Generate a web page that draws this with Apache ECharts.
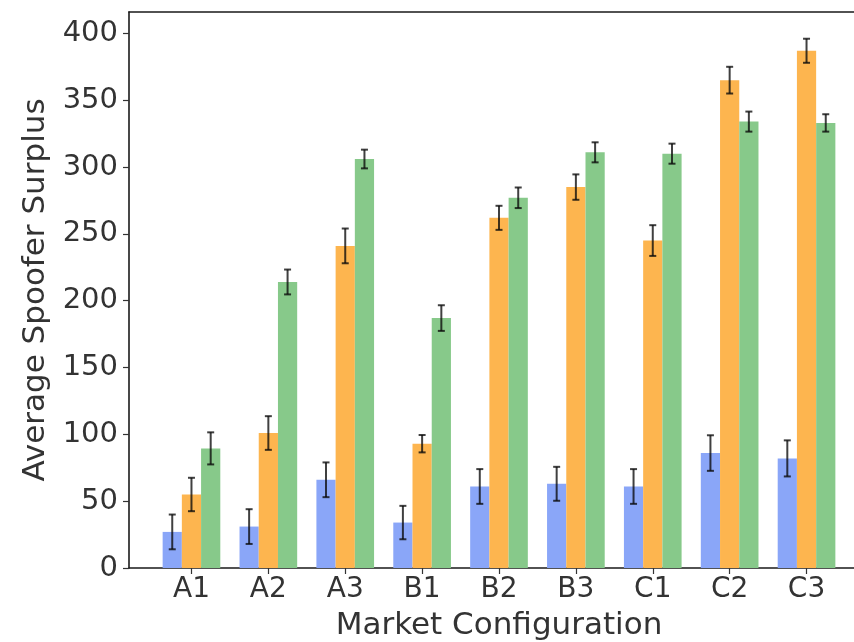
<!DOCTYPE html>
<html>
<head>
<meta charset="utf-8">
<script src="https://cdn.jsdelivr.net/npm/echarts@6/dist/echarts.min.js"></script>
<style>html,body{margin:0;padding:0;background:#fff;}#c{width:854px;height:642px;}</style>
</head>
<body>
<div id="c"></div>
<script>
const categories = ['A1','A2','A3','B1','B2','B3','C1','C2','C3'];
const blueValues   = [27, 31, 66, 34, 61, 63, 61, 86, 82];
const blueErrors   = [13, 13, 13, 12.5, 13, 12.7, 13, 13.3, 13.5];
const orangeValues = [55, 101, 241, 93, 262, 285, 245, 365, 387];
const orangeErrors = [12.5, 12.6, 13, 6.5, 9, 9.5, 11.5, 10, 9];
const greenValues  = [89.5, 214, 306, 187, 277, 311, 310, 334, 333];
const greenErrors  = [12, 9.3, 7, 9.6, 7.7, 7.5, 7.5, 7.5, 6.5];
const yTicks = [0, 50, 100, 150, 200, 250, 300, 350, 400];
const xTicks = categories.map((c, i) => i);

const BAR_W = 0.25;
const groups = [
  {name: 'Series 1', values: blueValues, errors: blueErrors, offset: -0.25, color: '#8aa6f8'},
  {name: 'Series 2', values: orangeValues, errors: orangeErrors, offset: 0, color: '#fdb54f'},
  {name: 'Series 3', values: greenValues, errors: greenErrors, offset: 0.25, color: '#87c98a'}
];

function makeSeries(g) {
  return {
    type: 'custom',
    name: g.name,
    clip: false,
    data: g.values.map((v, i) => [i, v, g.errors[i]]),
    renderItem: function (params, api) {
      const i = api.value(0), v = api.value(1), e = api.value(2);
      const c = i + g.offset;
      const p0 = api.coord([c - BAR_W / 2, 0]);
      const p1 = api.coord([c + BAR_W / 2, v]);
      const pc = api.coord([c, v]);
      const pt = api.coord([c, v + e]);
      const pb = api.coord([c, v - e]);
      const cap = 3.5;
      const errStyle = {stroke: 'rgba(10,10,10,0.78)', lineWidth: 2};
      return {
        type: 'group',
        children: [
          {type: 'rect', shape: {x: p0[0], y: p1[1], width: p1[0] - p0[0], height: p0[1] - p1[1]}, style: {fill: g.color}},
          {type: 'line', shape: {x1: pc[0], y1: pt[1], x2: pc[0], y2: pb[1]}, style: errStyle},
          {type: 'line', shape: {x1: pc[0] - cap, y1: pt[1], x2: pc[0] + cap, y2: pt[1]}, style: errStyle},
          {type: 'line', shape: {x1: pc[0] - cap, y1: pb[1], x2: pc[0] + cap, y2: pb[1]}, style: errStyle}
        ]
      };
    }
  };
}

const chart = echarts.init(document.getElementById('c'), null, {renderer: 'canvas'});
const font = 'DejaVu Sans';
const spine = {color: '#1a1a1a', width: 1.6};
chart.setOption({
  animation: false,
  backgroundColor: '#fff',
  grid: {left: 129, top: 12, width: 740, height: 556, outerBoundsMode: 'none', containLabel: false, show: false},
  xAxis: [{
    type: 'value', min: -0.8125, max: 8.8125,
    splitLine: {show: false},
    axisLine: {show: true, onZero: false, lineStyle: spine},
    axisTick: {show: true, customValues: xTicks, length: 6, lineStyle: {color: '#333', width: 1.2}},
    axisLabel: {customValues: xTicks, formatter: v => categories[Math.round(v)], fontFamily: font, fontSize: 28, color: '#333', margin: 8},
    name: 'Market Configuration', nameLocation: 'middle', nameGap: 42,
    nameTextStyle: {fontFamily: font, fontSize: 31, color: '#333'}
  }, {
    type: 'value', position: 'top', min: -0.8125, max: 8.8125,
    splitLine: {show: false},
    axisLine: {show: true, onZero: false, lineStyle: spine},
    axisTick: {show: false}, axisLabel: {show: false}
  }],
  yAxis: {
    type: 'value', min: 0, max: 416,
    splitLine: {show: false},
    axisLine: {show: true, onZero: false, lineStyle: spine},
    axisTick: {show: true, customValues: yTicks, length: 6, lineStyle: {color: '#333', width: 1.2}},
    axisLabel: {customValues: yTicks, fontFamily: font, fontSize: 29, color: '#333', margin: 11},
    name: 'Average Spoofer Surplus', nameLocation: 'middle', nameGap: 74,
    nameTextStyle: {fontFamily: font, fontSize: 31, color: '#333'}
  },
  series: groups.map(makeSeries)
});
</script>
</body>
</html>
